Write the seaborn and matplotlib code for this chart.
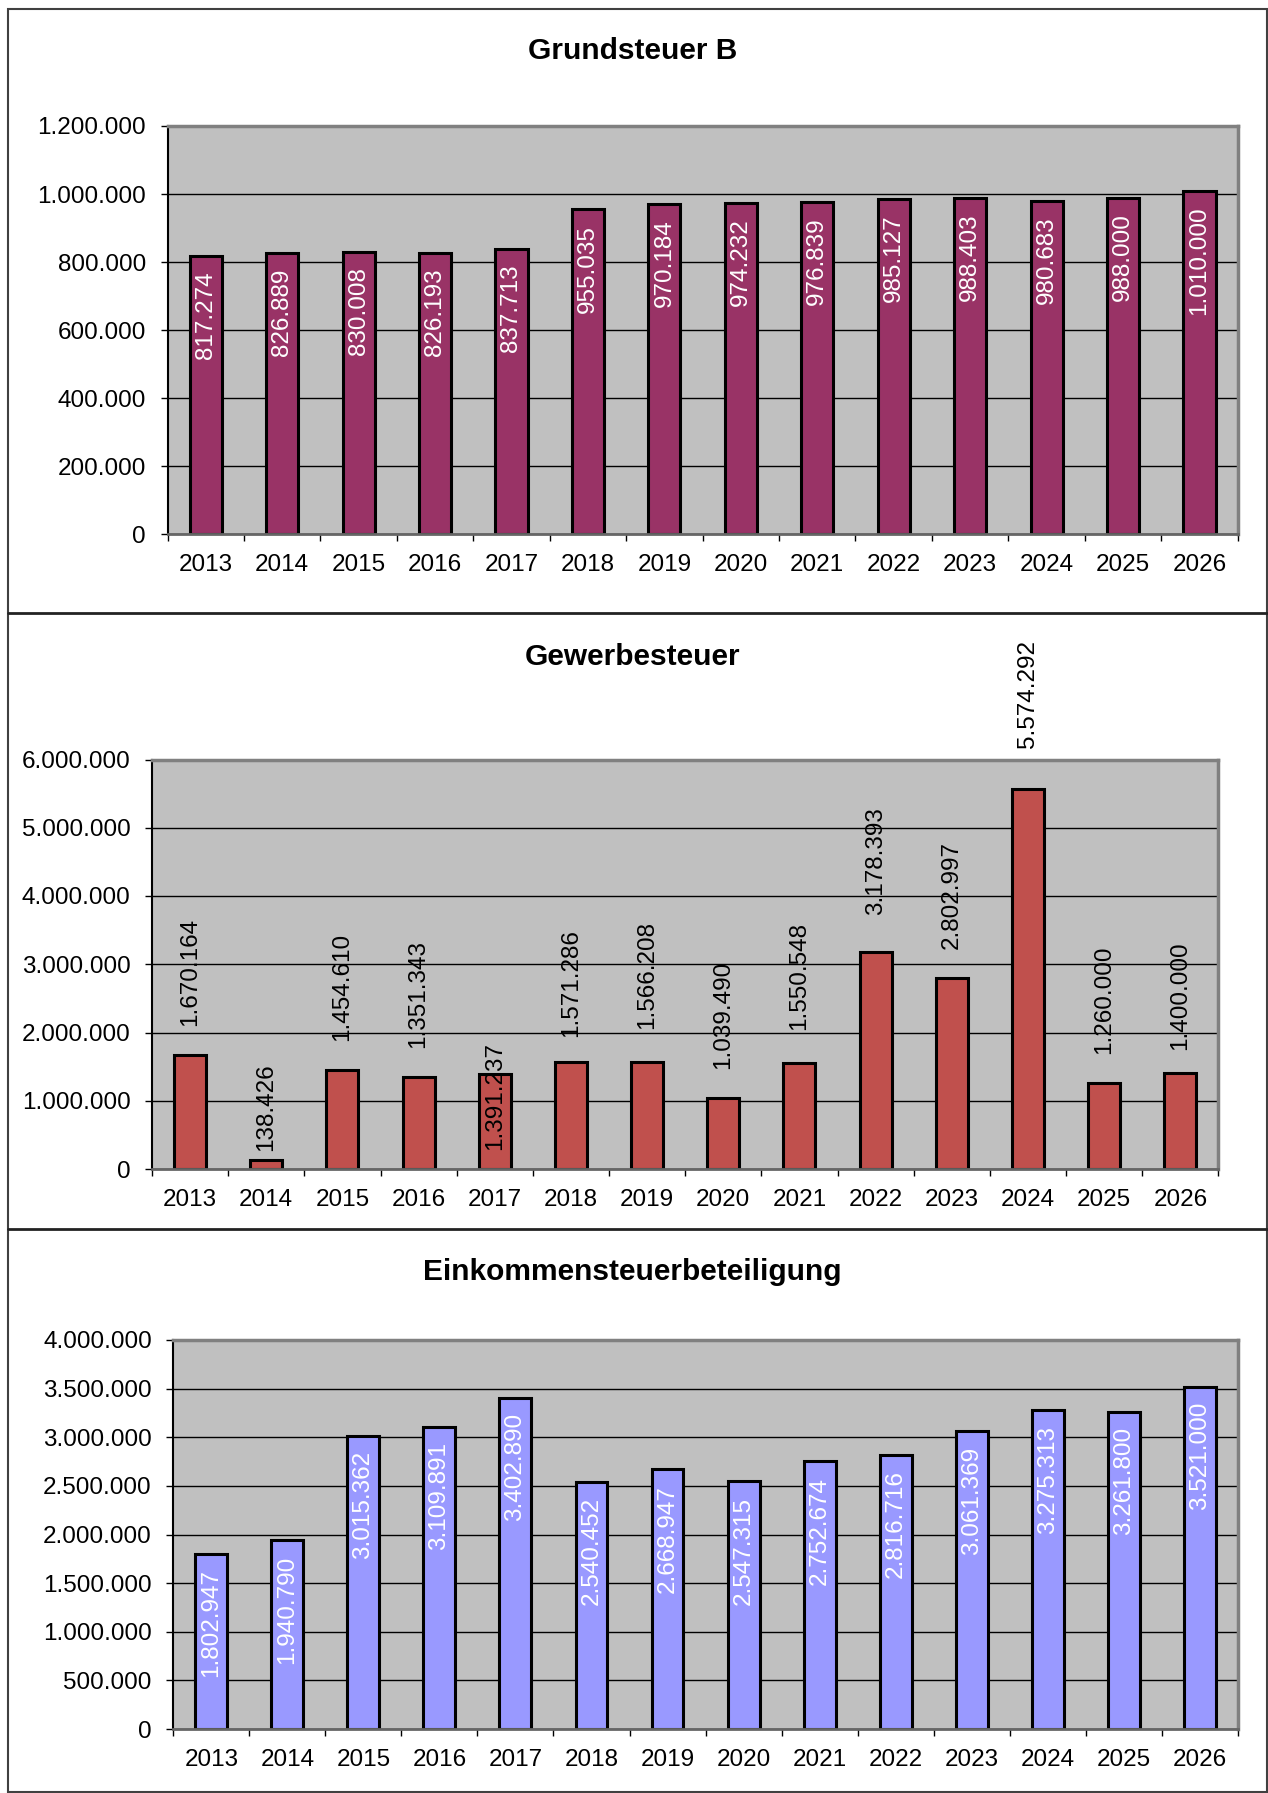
import matplotlib
matplotlib.use('Agg')
import matplotlib.pyplot as plt
import seaborn as sns
import numpy as np
from matplotlib.ticker import FuncFormatter, MultipleLocator
from matplotlib.lines import Line2D
from matplotlib.patches import Rectangle

years = ['2013', '2014', '2015', '2016', '2017', '2018', '2019',
         '2020', '2021', '2022', '2023', '2024', '2025', '2026']

grundsteuer_b = [817274, 826889, 830008, 826193, 837713, 955035, 970184,
                 974232, 976839, 985127, 988403, 980683, 988000, 1010000]

gewerbesteuer = [1670164, 138426, 1454610, 1351343, 1391237, 1571286, 1566208,
                 1039490, 1550548, 3178393, 2802997, 5574292, 1260000, 1400000]

einkommensteuer = [1802947, 1940790, 3015362, 3109891, 3402890, 2540452, 2668947,
                   2547315, 2752674, 2816716, 3061369, 3275313, 3261800, 3521000]

titles = ['Grundsteuer B', 'Gewerbesteuer', 'Einkommensteuerbeteiligung']

sns.set_theme(style='white')
plt.rcParams['font.family'] = ['Liberation Sans', 'DejaVu Sans']

W, H = 1268, 1793
fig = plt.figure(figsize=(W / 100, H / 100), dpi=100)


def dots(v, pos=None):
    return f'{int(round(v)):,}'.replace(',', '.')


def draw_panel(rect, values, color, ymax, step, label_color, inside, shifts=None):
    ax = fig.add_axes(rect)
    sns.barplot(x=years, y=values, color=color, saturation=1, width=0.42,
                edgecolor='black', linewidth=2.2, ax=ax)
    ax.set_facecolor('#C0C0C0')
    ax.set_xlim(-0.5, len(years) - 0.5)
    ax.set_ylim(0, ymax)
    ax.yaxis.set_major_locator(MultipleLocator(step))
    ax.yaxis.set_major_formatter(FuncFormatter(dots))
    ax.yaxis.grid(True, color='black', linewidth=1.0)
    ax.xaxis.grid(False)
    ax.set_axisbelow(True)
    ax.set_xlabel('')
    ax.set_ylabel('')
    ax.set_xticks(np.arange(-0.5, len(years), 1), minor=True)
    ax.tick_params(axis='x', which='major', length=0, pad=14.5, labelsize=17.5, colors='black')
    ax.tick_params(axis='x', which='minor', length=5, width=1, direction='out',
                   color='black', bottom=True)
    ax.tick_params(axis='y', length=5, width=1, direction='out', pad=10.5,
                   labelsize=17.5, colors='black', left=True)
    for side in ['top', 'right']:
        ax.spines[side].set_color('#808080')
        ax.spines[side].set_linewidth(2.5)
    ax.spines['left'].set_color('black')
    ax.spines['left'].set_linewidth(1.5)
    ax.spines['bottom'].set_color('#666666')
    ax.spines['bottom'].set_linewidth(2)

    shifts = shifts or {}
    for i, v in enumerate(values):
        if inside:
            off, va = -11, 'top'
        else:
            off, va = shifts.get(years[i], 21), 'bottom'
        ax.annotate(dots(v), xy=(i, v), xytext=(0, off), textcoords='offset points',
                    rotation=90, ha='center', va=va, color=label_color,
                    fontsize=17.5, annotation_clip=False)
    return ax


def frac(left, top, right, bottom):
    return [left / W, 1 - bottom / H, (right - left) / W, (bottom - top) / H]


# label offsets (points) where the original labels sit off the usual spot
gewerbe_shifts = {'2014': 6, '2017': -55, '2018': 18, '2019': 24, '2021': 24,
                  '2022': 27, '2024': 29, '2026': 17}

draw_panel(frac(167.5, 126, 1237.7, 534.3), grundsteuer_b, '#993366',
           1200000, 200000, 'white', True)
draw_panel(frac(152, 759.5, 1218.4, 1169), gewerbesteuer, '#C0504D',
           6000000, 1000000, 'black', False, shifts=gewerbe_shifts)
draw_panel(frac(173.3, 1340, 1237.8, 1729), einkommensteuer, '#9999FF',
           4000000, 500000, 'white', True)

title_y = [51.4, 656.7, 1272]
for t, y in zip(titles, title_y):
    fig.text(632.5 / W, 1 - y / H, t, ha='center', va='center',
             fontsize=21.5, fontweight='bold', color='black')

# outer frame and panel separators
fig.add_artist(Rectangle((8 / W, 1 / H), 1258.5 / W, 1783 / H, transform=fig.transFigure,
                         fill=False, edgecolor='#404040', linewidth=1.5))
for y in [613, 1229]:
    fig.add_artist(Line2D([8 / W, 1266.5 / W], [1 - y / H, 1 - y / H],
                          transform=fig.transFigure, color='#222222', linewidth=2))

fig.savefig('out.png', dpi=100, facecolor='white')
